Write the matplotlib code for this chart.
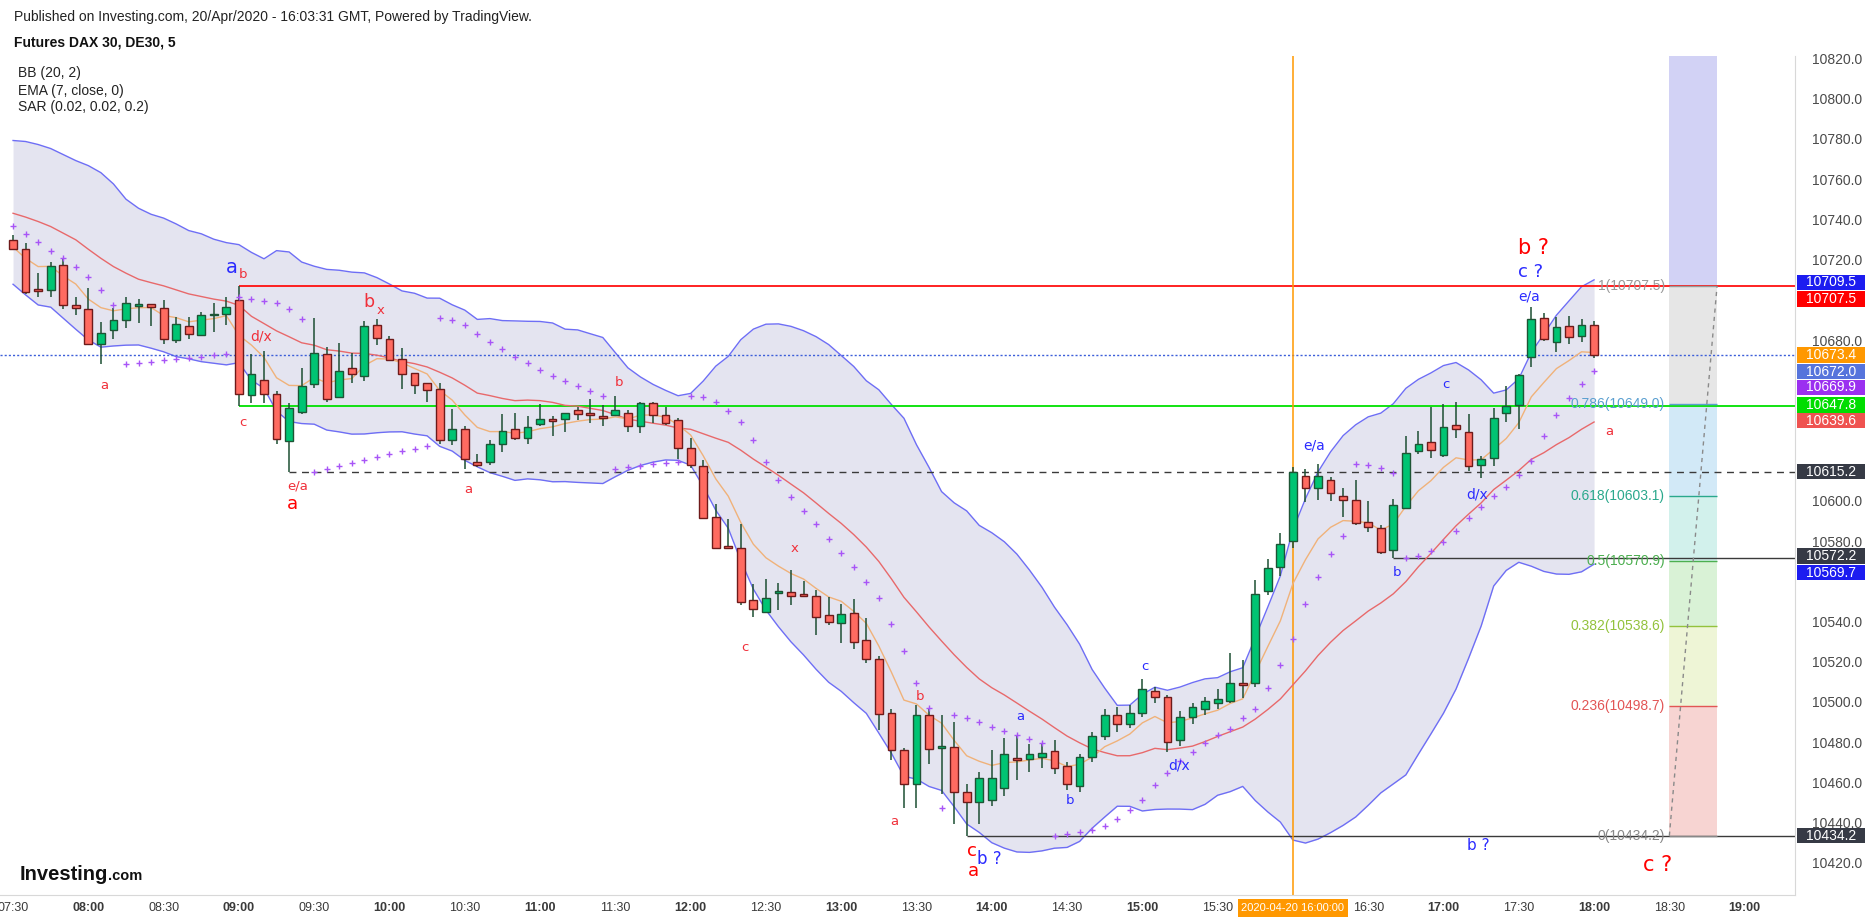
import numpy as np
import matplotlib
matplotlib.use('Agg')
import matplotlib.pyplot as plt
import matplotlib.transforms as mtransforms
from matplotlib.patches import Rectangle

# 5 minute candles, 07:30 .. 18:00
opens = [10730.4, 10725.9, 10706.0, 10705.5, 10718.0, 10698.2, 10696.1, 10678.7, 10685.6, 10690.6,
         10697.9, 10698.6, 10696.8, 10680.7, 10687.6, 10683.1, 10693.1, 10693.6, 10700.5, 10653.4,
         10660.7, 10654.1, 10630.4, 10645.1, 10659.1, 10674.0, 10652.3, 10666.7, 10662.7, 10688.1,
         10681.1, 10671.2, 10664.2, 10659.2, 10656.2, 10630.9, 10636.5, 10619.9, 10619.9, 10628.9,
         10636.3, 10631.9, 10638.8, 10641.5, 10641.3, 10645.9, 10643.8, 10643.0, 10643.6, 10644.3,
         10638.2, 10649.3, 10643.3, 10641.0, 10626.9, 10617.9, 10592.6, 10578.1, 10577.2, 10551.3,
         10545.6, 10554.8, 10555.3, 10554.3, 10553.3, 10543.8, 10540.2, 10544.8, 10531.4, 10521.9,
         10495.0, 10476.8, 10460.0, 10494.0, 10477.9, 10478.5, 10456.0, 10451.0, 10452.0, 10458.0,
         10472.5, 10472.3, 10473.2, 10476.3, 10469.0, 10459.0, 10473.2, 10484.0, 10494.0, 10490.0,
         10495.0, 10506.0, 10503.0, 10482.0, 10493.0, 10497.0, 10500.0, 10501.0, 10509.8, 10510.2,
         10555.7, 10568.0, 10580.6, 10612.9, 10607.1, 10611.0, 10603.0, 10601.0, 10590.4, 10587.2,
         10576.1, 10597.3, 10625.4, 10629.8, 10623.4, 10638.7, 10635.1, 10618.8, 10622.2, 10644.5,
         10648.3, 10672.3, 10691.6, 10679.6, 10687.5, 10683.0, 10688.0]
highs = [10733.0, 10728.9, 10714.0, 10719.5, 10721.3, 10702.1, 10706.7, 10689.8, 10696.6, 10702.2,
         10701.2, 10698.6, 10700.7, 10692.3, 10692.3, 10694.6, 10699.1, 10702.2, 10707.5, 10673.6,
         10675.3, 10655.4, 10649.3, 10667.0, 10691.9, 10677.3, 10679.3, 10674.1, 10690.2, 10691.2,
         10682.9, 10676.6, 10664.2, 10659.2, 10659.2, 10646.4, 10638.0, 10624.1, 10631.0, 10643.8,
         10644.5, 10643.0, 10648.9, 10642.8, 10644.3, 10647.6, 10651.4, 10648.3, 10652.9, 10645.9,
         10649.9, 10649.9, 10647.4, 10642.0, 10631.9, 10620.9, 10599.2, 10591.7, 10589.3, 10559.4,
         10561.9, 10559.9, 10566.4, 10560.9, 10556.4, 10553.1, 10549.6, 10551.9, 10542.3, 10523.7,
         10497.0, 10478.0, 10499.0, 10497.0, 10494.0, 10491.0, 10460.0, 10466.0, 10476.8, 10483.0,
         10484.0, 10480.0, 10480.0, 10482.0, 10471.0, 10475.0, 10486.0, 10497.0, 10498.0, 10499.0,
         10512.0, 10508.0, 10504.0, 10496.0, 10500.0, 10503.0, 10507.0, 10525.0, 10521.4, 10561.4,
         10571.7, 10585.0, 10617.4, 10616.5, 10619.1, 10612.6, 10607.2, 10611.2, 10600.7, 10588.9,
         10601.7, 10632.8, 10635.5, 10647.6, 10648.8, 10649.9, 10643.8, 10623.2, 10646.7, 10657.9,
         10663.7, 10697.1, 10694.3, 10692.0, 10692.5, 10691.0, 10690.0]
lows = [10725.3, 10703.7, 10702.4, 10702.4, 10696.4, 10693.4, 10678.7, 10668.7, 10681.5, 10686.5,
        10689.4, 10687.5, 10679.0, 10679.5, 10681.5, 10683.1, 10684.5, 10688.1, 10647.8, 10649.6,
        10649.3, 10629.2, 10615.2, 10644.0, 10657.0, 10650.0, 10651.8, 10659.6, 10660.5, 10678.3,
        10670.5, 10656.4, 10653.7, 10649.8, 10629.0, 10628.7, 10616.8, 10617.8, 10618.7, 10625.2,
        10631.0, 10629.2, 10638.2, 10633.2, 10635.2, 10641.0, 10639.6, 10638.2, 10643.0, 10635.2,
        10634.7, 10639.3, 10638.5, 10621.8, 10617.0, 10591.9, 10577.0, 10576.7, 10549.0, 10543.2,
        10545.0, 10546.5, 10549.0, 10553.1, 10534.0, 10539.0, 10530.2, 10527.3, 10520.0, 10487.0,
        10471.8, 10448.0, 10448.0, 10470.0, 10455.0, 10440.0, 10434.2, 10440.0, 10449.0, 10454.0,
        10462.0, 10466.0, 10468.0, 10465.0, 10457.0, 10456.0, 10471.0, 10482.0, 10486.0, 10488.0,
        10493.0, 10500.0, 10476.0, 10479.0, 10490.0, 10494.0, 10497.0, 10500.0, 10502.8, 10508.0,
        10554.0, 10563.2, 10577.4, 10600.0, 10601.4, 10600.5, 10592.5, 10588.9, 10585.4, 10574.5,
        10572.2, 10596.5, 10624.3, 10622.3, 10622.8, 10632.1, 10615.6, 10612.0, 10617.9, 10640.1,
        10636.6, 10667.1, 10680.1, 10674.6, 10679.0, 10680.0, 10672.0]
closes = [10725.9, 10704.5, 10705.0, 10717.8, 10698.1, 10696.6, 10678.7, 10684.1, 10690.6, 10699.1,
          10698.6, 10697.1, 10681.2, 10688.6, 10683.6, 10693.1, 10693.8, 10697.2, 10653.7, 10663.7,
          10653.7, 10631.6, 10646.8, 10657.7, 10674.1, 10651.6, 10665.2, 10663.7, 10687.6, 10681.6,
          10670.8, 10663.7, 10658.2, 10655.7, 10631.0, 10636.5, 10621.4, 10618.7, 10628.9, 10635.3,
          10631.9, 10637.3, 10641.3, 10640.3, 10644.3, 10643.8, 10643.6, 10642.1, 10645.9, 10638.2,
          10649.3, 10643.6, 10639.3, 10626.9, 10618.4, 10592.4, 10577.2, 10577.2, 10550.6, 10546.8,
          10552.3, 10555.8, 10553.6, 10553.6, 10543.2, 10540.3, 10544.3, 10530.8, 10521.9, 10494.6,
          10476.6, 10460.0, 10494.0, 10477.3, 10478.3, 10456.0, 10451.0, 10463.0, 10463.0, 10474.7,
          10472.0, 10474.7, 10475.2, 10467.7, 10460.0, 10473.2, 10484.0, 10494.0, 10490.0, 10495.0,
          10507.0, 10503.0, 10481.0, 10493.0, 10498.0, 10501.0, 10502.0, 10510.0, 10509.3, 10554.3,
          10567.3, 10579.5, 10615.1, 10607.1, 10612.9, 10604.9, 10601.0, 10589.5, 10587.7, 10575.1,
          10598.5, 10624.5, 10628.9, 10625.9, 10637.3, 10636.4, 10617.9, 10621.4, 10642.2, 10647.8,
          10663.2, 10691.1, 10681.1, 10687.2, 10682.5, 10688.0, 10673.4]

# BB values for the first 19 bars (window reaches back before 07:30)
bb_upper_start = [10780.0, 10779.5, 10778.0, 10776.0, 10773.0, 10770.0, 10767.5, 10764.0, 10758.4, 10750.8,
                  10746.3, 10743.3, 10741.4, 10738.5, 10735.2, 10733.6, 10730.9, 10729.2, 10728.2]
bb_mid_start = [10743.8, 10741.9, 10739.7, 10737.2, 10733.9, 10730.6, 10725.9, 10721.4, 10717.3, 10714.0,
                10711.0, 10709.3, 10707.7, 10705.7, 10703.7, 10702.4, 10701.1, 10700.1, 10698.0]
bb_lower_start = [10708.5, 10703.2, 10698.2, 10697.1, 10691.6, 10686.1, 10680.8, 10677.2, 10677.8, 10678.2,
                  10678.3, 10676.7, 10674.9, 10672.5, 10671.4, 10670.0, 10669.2, 10668.4, 10669.5]
ema_start = 10727.0
sar_state = (10737.5, 10705.0, 0.12)   # sar, extreme point, af at 07:30

time_labels = ['07:30', '08:00', '08:30', '09:00', '09:30', '10:00', '10:30', '11:00', '11:30', '12:00',
               '12:30', '13:00', '13:30', '14:00', '14:30', '15:00', '15:30', '16:00', '16:30', '17:00',
               '17:30', '18:00', '18:30', '19:00']
price_ticks = [10420, 10440, 10460, 10480, 10500, 10520, 10540, 10560, 10580, 10600, 10620, 10640,
               10660, 10680, 10700, 10720, 10740, 10760, 10780, 10800, 10820]

fib_low, fib_high = 10434.2, 10707.5
fib_levels = [0, 0.236, 0.382, 0.5, 0.618, 0.786, 1]
fib_colors = ['#888888', '#e25555', '#93c23c', '#4caf50', '#2aa88c', '#5a9fd0', '#999999']
fib_fills = ['#f7d4d2', '#eef5d6', '#d9f2d6', '#d2f1ec', '#d2e9f7', '#e6e6e6']

# price scale boxes: text, colour, position on the scale
axis_boxes = [('10709.5', '#1c1cf0', 10709.4), ('10707.5', '#ff0000', 10701.1),
              ('10673.4', '#ff9800', 10673.3), ('10672.0', '#5674dc', 10665.0),
              ('10669.9', '#9b30f0', 10657.3), ('10647.8', '#00dd00', 10648.4),
              ('10639.6', '#ef5350', 10640.7), ('10615.2', '#363a45', 10615.3),
              ('10572.2', '#363a45', 10573.3), ('10569.7', '#1c1cf0', 10565.0),
              ('10434.2', '#363a45', 10434.2)]

RED = '#f0303a'
BIG_RED = '#ff0000'
BLUE = '#2b2bff'
wave_labels = [('a', 7.3, 10658.0, RED, 9.5), ('a', 17.4, 10717.0, BLUE, 14), ('b', 18.3, 10713.5, RED, 9.5),
               ('d/x', 19.8, 10682.4, RED, 10), ('c', 18.3, 10639.5, RED, 9.5), ('e/a', 22.7, 10608.2, RED, 9.5),
               ('a', 22.3, 10599.3, BIG_RED, 13), ('b', 28.4, 10699.9, RED, 12.5), ('x', 29.3, 10695.3, RED, 9.5),
               ('a', 36.3, 10606.5, RED, 9.5), ('b', 48.3, 10659.6, RED, 9.5), ('x', 62.3, 10576.9, RED, 9.5),
               ('c', 58.3, 10527.8, RED, 9.5), ('b', 72.3, 10503.6, RED, 9.5), ('a', 70.2, 10441.3, RED, 9.5),
               ('c', 76.4, 10426.5, BIG_RED, 13), ('a', 76.5, 10416.5, BIG_RED, 13), ('b ?', 77.8, 10422.4, BLUE, 12),
               ('a', 80.3, 10493.4, BLUE, 9.5), ('b', 84.2, 10451.9, BLUE, 9.5), ('c', 90.2, 10518.2, BLUE, 9.5),
               ('d/x', 92.9, 10469.1, BLUE, 10), ('e/a', 103.7, 10628.3, BLUE, 10), ('b', 110.3, 10565.3, BLUE, 9.5),
               ('c', 114.2, 10658.6, BLUE, 9.5), ('d/x', 116.7, 10604.0, BLUE, 10), ('e/a', 120.8, 10702.3, BLUE, 10),
               ('c ?', 120.9, 10714.7, BLUE, 13), ('b ?', 121.2, 10726.6, BIG_RED, 15), ('a', 127.2, 10635.4, RED, 9.5),
               ('b ?', 116.8, 10429.5, BLUE, 11), ('c ?', 131.1, 10419.4, BIG_RED, 15)]


def psar(h, l, sar, ep, af, trend=-1, step=0.02, amax=0.2):
    out = []
    for i in range(len(h)):
        if trend < 0 and h[i] > sar:
            trend, sar, ep, af = 1, ep, h[i], step
        elif trend > 0 and l[i] < sar:
            trend, sar, ep, af = -1, ep, l[i], step
        elif trend < 0 and l[i] < ep:
            ep, af = l[i], min(af + step, amax)
        elif trend > 0 and h[i] > ep:
            ep, af = h[i], min(af + step, amax)
        out.append(sar)
        sar = sar + af * (ep - sar)
    return np.array(out)


n = len(closes)
x = np.arange(n)
c = np.array(closes)
o = np.array(opens)

# bollinger bands (20, 2)
bb_mid = np.zeros(n)
bb_up = np.zeros(n)
bb_lo = np.zeros(n)
bb_mid[:19] = bb_mid_start
bb_up[:19] = bb_upper_start
bb_lo[:19] = bb_lower_start
for i in range(19, n):
    w = c[i - 19:i + 1]
    bb_mid[i] = w.mean()
    bb_up[i] = w.mean() + 2 * w.std()
    bb_lo[i] = w.mean() - 2 * w.std()

# ema 7
ema = np.zeros(n)
ema[0] = ema_start
for i in range(1, n):
    ema[i] = ema[i - 1] + (c[i] - ema[i - 1]) * 2 / 8.0

sar = psar(highs, lows, *sar_state)

plt.rcParams['font.family'] = ['Liberation Sans', 'DejaVu Sans']
fig = plt.figure(figsize=(18.7, 9.22), dpi=100)
ax = fig.add_axes([0.0, 0.0297, 0.9598, 0.9095])
ax.set_xlim(-1.04, 142.0)
ax.set_ylim(10404.9, 10822.0)

ax.fill_between(x, bb_lo, bb_up, color='#e4e4f0', zorder=1, lw=0)
ax.plot(x, bb_up, color='#6e6ef5', lw=1.0, zorder=2)
ax.plot(x, bb_lo, color='#6e6ef5', lw=1.0, zorder=2)
ax.plot(x, bb_mid, color='#e8696b', lw=1.0, zorder=3)
ax.plot(x, ema, color='#f0b27a', lw=1.0, zorder=3)

# drawn levels
xr = 142.0
ax.hlines(10707.5, 18, xr, color='#ff1010', lw=1.3, zorder=2.5)
ax.hlines(10647.8, 18, xr, color='#00e000', lw=1.3, zorder=2.5)
ax.hlines(10615.2, 22, xr, color='#3a3a3a', lw=1.0, linestyles=(0, (5, 4)), zorder=2.5)
ax.hlines(10572.2, 110, xr, color='#3a3a3a', lw=1.0, zorder=2.5)
ax.hlines(10434.2, 76, xr, color='#3a3a3a', lw=1.0, zorder=2.5)
ax.axhline(10673.4, color='#3d5fd9', lw=1.0, ls=(0, (1.5, 1.5)), zorder=2.5)
ax.axvline(102, color='#ff9800', lw=1.1, zorder=2.5)

# fibonacci retracement
fx0, fx1 = 132.0, 135.8
vals = [fib_low + r * (fib_high - fib_low) for r in fib_levels]
for k in range(len(vals) - 1):
    ax.add_patch(Rectangle((fx0, vals[k]), fx1 - fx0, vals[k + 1] - vals[k], color=fib_fills[k], lw=0, zorder=1))
ax.add_patch(Rectangle((fx0, fib_high), fx1 - fx0, 200, color='#d2d2f5', lw=0, zorder=1))
for r, v, col in zip(fib_levels, vals, fib_colors):
    ax.hlines(v, fx0, fx1, color=col, lw=1.0, zorder=2.6)
    ax.text(fx0 - 0.35, v, '%g(%.1f)' % (r, v), color=col, fontsize=10, ha='right', va='center', zorder=7)
ax.plot([fx0, fx1], [fib_low, fib_high], color='#8a8a8a', lw=1.0, ls=(0, (3, 3)), zorder=2.6)

# candles
up = c >= o
fill = np.where(up, '#00c473', '#ff6b61')
edge = np.where(up, '#1d5535', '#6e1a1a')
ax.vlines(x, lows, highs, color='#1d4f33', lw=1.1, zorder=4)
body_lo = np.minimum(o, c)
body_h = np.maximum(np.abs(c - o), 0.7)
ax.bar(x, body_h, bottom=body_lo, width=0.62, color=fill, edgecolor=edge, linewidth=1.0, zorder=5)

ax.plot(x, sar, ls='none', marker='+', ms=4, mew=1.0, color='#a855f7', zorder=6)

for txt, xi, yi, col, fs in wave_labels:
    ax.text(xi, yi, txt, color=col, fontsize=fs, ha='center', va='center', family='DejaVu Sans', zorder=8)

# axes look
for s in ['top', 'left']:
    ax.spines[s].set_visible(False)
ax.spines['bottom'].set_color('#d8d8d8')
ax.spines['right'].set_color('#d8d8d8')
ax.set_xticks([])
ax.set_yticks([])

ytr = mtransforms.blended_transform_factory(ax.transAxes, ax.transData)
box_pos = [b[2] for b in axis_boxes]
for v in price_ticks:
    # the scale hides tick labels that sit under a value box
    if min(abs(v - p) for p in box_pos) < 5.5:
        continue
    ax.text(1.0235, v, '%.1f' % v, transform=ytr, ha='center', va='center', fontsize=10,
            color='#4a4a4a', clip_on=False, zorder=9)
for txt, col, pos in axis_boxes:
    ax.add_patch(Rectangle((1.0012, pos - 3.8), 0.0380, 7.6, transform=ytr, color=col, lw=0,
                           clip_on=False, zorder=10))
    ax.text(1.0202, pos, txt, transform=ytr, ha='center', va='center', fontsize=10, color='white',
            clip_on=False, zorder=11)

xtr = mtransforms.blended_transform_factory(ax.transData, ax.transAxes)
for k, lab in enumerate(time_labels):
    if lab == '16:00':
        continue
    ax.text(k * 6, -0.0155, lab, transform=xtr, ha='center', va='center', fontsize=9, color='#3a3a3a',
            fontweight='bold' if lab.endswith(':00') else 'normal', clip_on=False)
ax.text(102, -0.0155, '2020-04-20 16:00:00', transform=xtr, ha='center', va='center', fontsize=8,
        color='white', clip_on=False, zorder=11,
        bbox=dict(boxstyle='square,pad=0.35', fc='#ff9800', ec='none'))

# header texts
fig.text(0.0077, 0.9819, 'Published on Investing.com, 20/Apr/2020 - 16:03:31 GMT, Powered by TradingView.',
         fontsize=10, color='#222222', va='center')
fig.text(0.0077, 0.9534, 'Futures DAX 30, DE30, 5', fontsize=10, fontweight='bold', color='#111111', va='center')
fig.text(0.0096, 0.9211, 'BB (20, 2)', fontsize=10, color='#222222', va='center')
fig.text(0.0096, 0.9017, 'EMA (7, close, 0)', fontsize=10, color='#222222', va='center')
fig.text(0.0096, 0.8836, 'SAR (0.02, 0.02, 0.2)', fontsize=10, color='#222222', va='center')

fig.text(0.0105, 0.0517, 'Investing', fontsize=14.5, fontweight='bold', color='#111111', va='center')
fig.text(0.0580, 0.0500, '.com', fontsize=10.5, fontweight='bold', color='#111111', va='center')

fig.savefig('out.png', dpi=100, facecolor='white')
